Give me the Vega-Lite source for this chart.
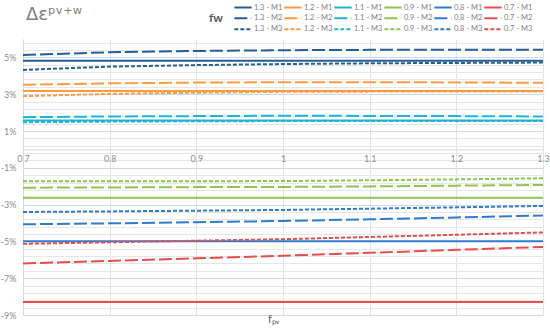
{
  "$schema": "https://vega.github.io/schema/vega-lite/v6.json",
  "width": 520,
  "height": 276,
  "autosize": "none",
  "padding": {"left": 23, "top": 39, "right": 7, "bottom": 21},
  "background": "white",
  "config": {"view": {"stroke": null}, "font": "Lato"},
  "title": {"text": "Δεᵖᵛ⁺ʷ", "anchor": "start", "frame": "group", "font": "DejaVu Sans", "fontSize": 18, "fontWeight": "normal", "color": "#7f7f7f", "offset": 15, "dx": 3, "dy": 37},
  "data": {"values": [
    {"s":"1.3 - M1","f":0.7,"v":4.82},{"s":"1.3 - M1","f":0.8,"v":4.82},{"s":"1.3 - M1","f":0.9,"v":4.82},{"s":"1.3 - M1","f":1.0,"v":4.82},{"s":"1.3 - M1","f":1.1,"v":4.82},{"s":"1.3 - M1","f":1.2,"v":4.82},{"s":"1.3 - M1","f":1.3,"v":4.82},
    {"s":"1.3 - M2","f":0.7,"v":5.13},{"s":"1.3 - M2","f":0.8,"v":5.28},{"s":"1.3 - M2","f":0.9,"v":5.35},{"s":"1.3 - M2","f":1.0,"v":5.39},{"s":"1.3 - M2","f":1.1,"v":5.41},{"s":"1.3 - M2","f":1.2,"v":5.42},{"s":"1.3 - M2","f":1.3,"v":5.42},
    {"s":"1.3 - M3","f":0.7,"v":4.32},{"s":"1.3 - M3","f":0.8,"v":4.50},{"s":"1.3 - M3","f":0.9,"v":4.58},{"s":"1.3 - M3","f":1.0,"v":4.64},{"s":"1.3 - M3","f":1.1,"v":4.68},{"s":"1.3 - M3","f":1.2,"v":4.70},{"s":"1.3 - M3","f":1.3,"v":4.72},
    {"s":"1.2 - M1","f":0.7,"v":3.17},{"s":"1.2 - M1","f":0.8,"v":3.17},{"s":"1.2 - M1","f":0.9,"v":3.17},{"s":"1.2 - M1","f":1.0,"v":3.17},{"s":"1.2 - M1","f":1.1,"v":3.17},{"s":"1.2 - M1","f":1.2,"v":3.17},{"s":"1.2 - M1","f":1.3,"v":3.17},
    {"s":"1.2 - M2","f":0.7,"v":3.51},{"s":"1.2 - M2","f":0.8,"v":3.59},{"s":"1.2 - M2","f":0.9,"v":3.63},{"s":"1.2 - M2","f":1.0,"v":3.65},{"s":"1.2 - M2","f":1.1,"v":3.65},{"s":"1.2 - M2","f":1.2,"v":3.64},{"s":"1.2 - M2","f":1.3,"v":3.62},
    {"s":"1.2 - M3","f":0.7,"v":2.89},{"s":"1.2 - M3","f":0.8,"v":3.02},{"s":"1.2 - M3","f":0.9,"v":3.08},{"s":"1.2 - M3","f":1.0,"v":3.13},{"s":"1.2 - M3","f":1.1,"v":3.14},{"s":"1.2 - M3","f":1.2,"v":3.15},{"s":"1.2 - M3","f":1.3,"v":3.15},
    {"s":"1.1 - M1","f":0.7,"v":1.57},{"s":"1.1 - M1","f":0.8,"v":1.57},{"s":"1.1 - M1","f":0.9,"v":1.57},{"s":"1.1 - M1","f":1.0,"v":1.57},{"s":"1.1 - M1","f":1.1,"v":1.57},{"s":"1.1 - M1","f":1.2,"v":1.57},{"s":"1.1 - M1","f":1.3,"v":1.57},
    {"s":"1.1 - M2","f":0.7,"v":1.75},{"s":"1.1 - M2","f":0.8,"v":1.79},{"s":"1.1 - M2","f":0.9,"v":1.81},{"s":"1.1 - M2","f":1.0,"v":1.83},{"s":"1.1 - M2","f":1.1,"v":1.82},{"s":"1.1 - M2","f":1.2,"v":1.81},{"s":"1.1 - M2","f":1.3,"v":1.79},
    {"s":"1.1 - M3","f":0.7,"v":1.48},{"s":"1.1 - M3","f":0.8,"v":1.51},{"s":"1.1 - M3","f":0.9,"v":1.53},{"s":"1.1 - M3","f":1.0,"v":1.54},{"s":"1.1 - M3","f":1.1,"v":1.55},{"s":"1.1 - M3","f":1.2,"v":1.55},{"s":"1.1 - M3","f":1.3,"v":1.55},
    {"s":"0.9 - M1","f":0.7,"v":-2.63},{"s":"0.9 - M1","f":0.8,"v":-2.63},{"s":"0.9 - M1","f":0.9,"v":-2.63},{"s":"0.9 - M1","f":1.0,"v":-2.63},{"s":"0.9 - M1","f":1.1,"v":-2.63},{"s":"0.9 - M1","f":1.2,"v":-2.63},{"s":"0.9 - M1","f":1.3,"v":-2.63},
    {"s":"0.9 - M2","f":0.7,"v":-2.08},{"s":"0.9 - M2","f":0.8,"v":-2.07},{"s":"0.9 - M2","f":0.9,"v":-2.05},{"s":"0.9 - M2","f":1.0,"v":-2.04},{"s":"0.9 - M2","f":1.1,"v":-2.01},{"s":"0.9 - M2","f":1.2,"v":-1.97},{"s":"0.9 - M2","f":1.3,"v":-1.93},
    {"s":"0.9 - M3","f":0.7,"v":-1.73},{"s":"0.9 - M3","f":0.8,"v":-1.73},{"s":"0.9 - M3","f":0.9,"v":-1.73},{"s":"0.9 - M3","f":1.0,"v":-1.72},{"s":"0.9 - M3","f":1.1,"v":-1.68},{"s":"0.9 - M3","f":1.2,"v":-1.63},{"s":"0.9 - M3","f":1.3,"v":-1.57},
    {"s":"0.8 - M1","f":0.7,"v":-4.99},{"s":"0.8 - M1","f":0.8,"v":-4.99},{"s":"0.8 - M1","f":0.9,"v":-4.99},{"s":"0.8 - M1","f":1.0,"v":-4.99},{"s":"0.8 - M1","f":1.1,"v":-4.99},{"s":"0.8 - M1","f":1.2,"v":-4.99},{"s":"0.8 - M1","f":1.3,"v":-4.99},
    {"s":"0.8 - M2","f":0.7,"v":-4.07},{"s":"0.8 - M2","f":0.8,"v":-4.02},{"s":"0.8 - M2","f":0.9,"v":-3.96},{"s":"0.8 - M2","f":1.0,"v":-3.89},{"s":"0.8 - M2","f":1.1,"v":-3.80},{"s":"0.8 - M2","f":1.2,"v":-3.70},{"s":"0.8 - M2","f":1.3,"v":-3.59},
    {"s":"0.8 - M3","f":0.7,"v":-3.40},{"s":"0.8 - M3","f":0.8,"v":-3.37},{"s":"0.8 - M3","f":0.9,"v":-3.33},{"s":"0.8 - M3","f":1.0,"v":-3.29},{"s":"0.8 - M3","f":1.1,"v":-3.22},{"s":"0.8 - M3","f":1.2,"v":-3.15},{"s":"0.8 - M3","f":1.3,"v":-3.07},
    {"s":"0.7 - M1","f":0.7,"v":-8.30},{"s":"0.7 - M1","f":0.8,"v":-8.30},{"s":"0.7 - M1","f":0.9,"v":-8.30},{"s":"0.7 - M1","f":1.0,"v":-8.30},{"s":"0.7 - M1","f":1.1,"v":-8.30},{"s":"0.7 - M1","f":1.2,"v":-8.30},{"s":"0.7 - M1","f":1.3,"v":-8.30},
    {"s":"0.7 - M2","f":0.7,"v":-6.20},{"s":"0.7 - M2","f":0.8,"v":-6.06},{"s":"0.7 - M2","f":0.9,"v":-5.92},{"s":"0.7 - M2","f":1.0,"v":-5.78},{"s":"0.7 - M2","f":1.1,"v":-5.62},{"s":"0.7 - M2","f":1.2,"v":-5.46},{"s":"0.7 - M2","f":1.3,"v":-5.30},
    {"s":"0.7 - M3","f":0.7,"v":-5.13},{"s":"0.7 - M3","f":0.8,"v":-5.05},{"s":"0.7 - M3","f":0.9,"v":-4.96},{"s":"0.7 - M3","f":1.0,"v":-4.88},{"s":"0.7 - M3","f":1.1,"v":-4.76},{"s":"0.7 - M3","f":1.2,"v":-4.64},{"s":"0.7 - M3","f":1.3,"v":-4.51}
  ]},
  "mark": {"type": "line", "strokeWidth": 2},
  "encoding": {
    "x": {"field": "f", "type": "quantitative",
      "scale": {"domain": [0.7, 1.3], "nice": false, "zero": false},
      "axis": {"orient": "bottom", "offset": -165.6, "values": [0.7, 0.8, 0.9, 1.0, 1.1, 1.2, 1.3], "format": "~g",
        "grid": true, "gridColor": "#e4e4e4", "gridWidth": 1, "ticks": false, "domain": true, "domainColor": "#d9d9d9",
        "labelColor": "#8c8c8c", "labelFontSize": 9, "labelPadding": 5, "labelFlush": false,
        "title": "fₚᵥ", "titleFontSize": 11, "titleColor": "#595959", "titleFontWeight": "normal", "titleX": 250, "titleY": 170, "titleBaseline": "middle"}},
    "y": {"field": "v", "type": "quantitative",
      "scale": {"domain": [-9, 6], "nice": false, "zero": false},
      "axis": {"values": [-9,-8.6,-8.2,-7.8,-7.4,-7,-6.6,-6.2,-5.8,-5.4,-5,-4.6,-4.2,-3.8,-3.4,-3,-2.6,-2.2,-1.8,-1.4,-1,-0.6,-0.2,0.2,0.6,1,1.4,1.8,2.2,2.6,3,3.4,3.8,4.2,4.6,5,5.4,5.8],
        "labelExpr": "abs(datum.value - round(datum.value)) < 0.01 && abs(round(datum.value)) % 2 == 1 ? round(datum.value) + '%' : ''",
        "grid": true,
        "gridColor": {"condition": {"test": "abs(datum.value - round(datum.value)) < 0.01 && abs(round(datum.value)) % 2 == 1", "value": "#c9daf0"}, "value": "#e6e6e6"},
        "ticks": false, "domain": true, "domainColor": "#d9d9d9",
        "labelColor": "#8c8c8c", "labelFontSize": 9, "labelPadding": 7, "title": null}},
    "color": {"field": "s", "type": "nominal",
      "scale": {
        "domain": ["1.3 - M1","1.2 - M1","1.1 - M1","0.9 - M1","0.8 - M1","0.7 - M1","1.3 - M2","1.2 - M2","1.1 - M2","0.9 - M2","0.8 - M2","0.7 - M2","1.3 - M3","1.2 - M3","1.1 - M3","0.9 - M3","0.8 - M3","0.7 - M3"],
        "range": ["#255e91","#ff9b3f","#1eb4d4","#8fc450","#2e7bcf","#e84c4c","#255e91","#ff9b3f","#1eb4d4","#8fc450","#2e7bcf","#e84c4c","#255e91","#ff9b3f","#1eb4d4","#8fc450","#2e7bcf","#e84c4c"]},
      "legend": {"orient": "none", "legendX": 186, "legendY": -37, "columns": 6, "direction": "horizontal",
        "title": "fw", "titleOrient": "left", "titleFontSize": 12, "titleFontWeight": "bold", "titleColor": "#595959", "titleAnchor": "middle", "titlePadding": 10,
        "symbolType": "stroke", "symbolSize": 300, "symbolStrokeWidth": 2, "clipHeight": 10.5,
        "labelFontSize": 7.5, "labelColor": "#808080", "labelOffset": 1, "columnPadding": 0, "rowPadding": 0}},
    "strokeDash": {"field": "s", "type": "nominal",
      "scale": {
        "domain": ["1.3 - M1","1.2 - M1","1.1 - M1","0.9 - M1","0.8 - M1","0.7 - M1","1.3 - M2","1.2 - M2","1.1 - M2","0.9 - M2","0.8 - M2","0.7 - M2","1.3 - M3","1.2 - M3","1.1 - M3","0.9 - M3","0.8 - M3","0.7 - M3"],
        "range": [[1,0],[1,0],[1,0],[1,0],[1,0],[1,0],[13,4],[13,4],[13,4],[13,4],[13,4],[13,4],[4,2],[4,2],[4,2],[4,2],[4,2],[4,2]]},
      "legend": null}
  }
}
